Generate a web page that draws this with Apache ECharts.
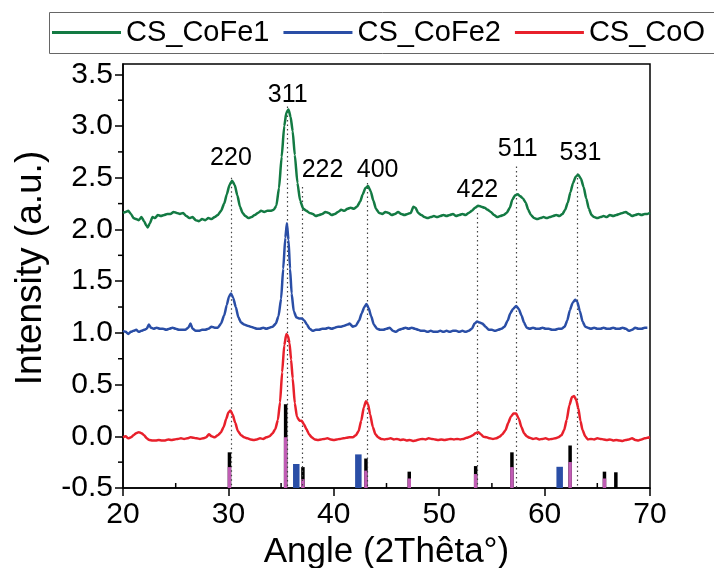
<!DOCTYPE html>
<html><head><meta charset="utf-8">
<script src="https://cdn.jsdelivr.net/npm/echarts@6/dist/echarts.min.js"></script>
<style>html,body{margin:0;padding:0;background:#fff}#c{width:714px;height:568px}</style>
</head><body><div id="c"></div>
<script>
const FONT = '"Liberation Sans", Arial, sans-serif';
const seriesNames = ['CS_CoFe1', 'CS_CoFe2', 'CS_CoO'];
const xTicks = [20, 30, 40, 50, 60, 70];
const xMinorTicks = [25, 35, 45, 55, 65];
const yTicks = [-0.5, 0, 0.5, 1, 1.5, 2, 2.5, 3, 3.5];
const yMinorTicks = [-0.25, 0.25, 0.75, 1.25, 1.75, 2.25, 2.75, 3.25];

const cofe1 = [[20.0,2.16],[20.25,2.17],[20.5,2.18],[20.75,2.15],[21.0,2.11],[21.25,2.10],[21.5,2.09],[21.75,2.12],[22.0,2.08],[22.2,2.04],[22.35,2.02],[22.55,2.06],[22.8,2.12],[23.05,2.11],[23.3,2.14],[23.6,2.13],[23.9,2.14],[24.2,2.15],[24.5,2.15],[24.8,2.17],[25.1,2.16],[25.4,2.15],[25.7,2.16],[26.0,2.13],[26.3,2.11],[26.6,2.12],[26.9,2.09],[27.2,2.08],[27.5,2.10],[27.8,2.09],[28.1,2.11],[28.4,2.10],[28.7,2.12],[29.0,2.14],[29.3,2.18],[29.6,2.25],[29.85,2.34],[30.1,2.43],[30.35,2.47],[30.6,2.43],[30.85,2.33],[31.1,2.22],[31.35,2.16],[31.6,2.13],[31.9,2.11],[32.2,2.12],[32.5,2.14],[32.8,2.16],[33.1,2.18],[33.4,2.17],[33.7,2.18],[34.0,2.18],[34.3,2.19],[34.55,2.23],[34.8,2.40],[35.05,2.70],[35.3,3.00],[35.5,3.13],[35.7,3.16],[35.9,3.09],[36.1,2.95],[36.3,2.72],[36.55,2.45],[36.8,2.28],[37.1,2.20],[37.4,2.18],[37.7,2.16],[38.0,2.15],[38.3,2.13],[38.6,2.14],[38.9,2.15],[39.2,2.17],[39.5,2.16],[39.8,2.14],[40.1,2.15],[40.4,2.17],[40.7,2.19],[41.0,2.18],[41.3,2.20],[41.6,2.21],[41.9,2.20],[42.2,2.22],[42.5,2.27],[42.75,2.34],[43.0,2.40],[43.25,2.42],[43.5,2.37],[43.75,2.28],[44.0,2.20],[44.3,2.16],[44.6,2.15],[44.9,2.17],[45.2,2.16],[45.5,2.14],[45.8,2.15],[46.1,2.17],[46.4,2.15],[46.7,2.14],[47.0,2.15],[47.3,2.16],[47.55,2.22],[47.75,2.21],[48.0,2.16],[48.3,2.14],[48.6,2.12],[48.9,2.11],[49.2,2.12],[49.5,2.13],[49.8,2.12],[50.1,2.13],[50.4,2.14],[50.7,2.13],[51.0,2.14],[51.3,2.15],[51.6,2.13],[51.9,2.14],[52.2,2.15],[52.5,2.14],[52.8,2.16],[53.1,2.18],[53.4,2.21],[53.7,2.23],[54.0,2.22],[54.3,2.21],[54.6,2.19],[54.9,2.17],[55.2,2.14],[55.5,2.12],[55.8,2.13],[56.1,2.14],[56.4,2.16],[56.7,2.21],[56.95,2.29],[57.2,2.33],[57.45,2.34],[57.7,2.32],[57.95,2.30],[58.2,2.26],[58.45,2.19],[58.7,2.14],[59.0,2.11],[59.3,2.10],[59.6,2.11],[59.9,2.12],[60.2,2.11],[60.5,2.12],[60.8,2.13],[61.1,2.14],[61.4,2.13],[61.7,2.15],[61.95,2.19],[62.2,2.26],[62.45,2.36],[62.7,2.45],[62.95,2.51],[63.2,2.53],[63.45,2.49],[63.7,2.41],[63.95,2.30],[64.2,2.20],[64.45,2.14],[64.7,2.12],[65.0,2.11],[65.3,2.12],[65.6,2.13],[65.9,2.12],[66.2,2.14],[66.5,2.13],[66.8,2.14],[67.1,2.15],[67.4,2.16],[67.7,2.17],[68.0,2.15],[68.3,2.13],[68.6,2.14],[68.9,2.15],[69.2,2.14],[69.5,2.15],[69.75,2.15],[70.0,2.16]];

const cofe2 = [[20.0,1.02],[20.25,1.01],[20.5,0.99],[20.75,1.01],[21.0,1.02],[21.25,1.03],[21.5,1.01],[21.75,1.02],[22.0,1.03],[22.25,1.04],[22.45,1.08],[22.65,1.05],[22.9,1.04],[23.2,1.05],[23.5,1.04],[23.8,1.04],[24.1,1.03],[24.4,1.04],[24.7,1.05],[25.0,1.04],[25.3,1.03],[25.6,1.03],[25.9,1.03],[26.2,1.05],[26.4,1.09],[26.6,1.04],[26.9,1.02],[27.2,1.02],[27.5,1.03],[27.8,1.03],[28.1,1.04],[28.4,1.06],[28.7,1.05],[29.0,1.05],[29.3,1.09],[29.6,1.17],[29.85,1.27],[30.05,1.35],[30.25,1.38],[30.45,1.34],[30.7,1.25],[30.95,1.15],[31.2,1.10],[31.5,1.08],[31.8,1.07],[32.1,1.06],[32.4,1.05],[32.7,1.04],[33.0,1.04],[33.3,1.05],[33.6,1.04],[33.9,1.05],[34.2,1.06],[34.5,1.09],[34.75,1.16],[35.0,1.33],[35.2,1.62],[35.4,1.92],[35.55,2.06],[35.7,1.90],[35.85,1.62],[36.0,1.38],[36.2,1.21],[36.45,1.15],[36.7,1.14],[36.95,1.14],[37.2,1.12],[37.45,1.08],[37.7,1.04],[38.0,1.02],[38.3,1.03],[38.6,1.03],[38.9,1.04],[39.2,1.04],[39.5,1.05],[39.8,1.04],[40.1,1.05],[40.4,1.06],[40.7,1.06],[41.0,1.07],[41.3,1.08],[41.5,1.09],[41.8,1.06],[42.1,1.07],[42.4,1.12],[42.65,1.19],[42.9,1.25],[43.1,1.28],[43.3,1.24],[43.55,1.16],[43.8,1.08],[44.1,1.04],[44.4,1.03],[44.7,1.03],[45.0,1.04],[45.3,1.05],[45.6,1.02],[45.9,1.01],[46.2,1.03],[46.5,1.04],[46.8,1.05],[47.1,1.04],[47.4,1.05],[47.7,1.04],[48.0,1.03],[48.3,1.02],[48.6,1.02],[48.9,1.01],[49.2,1.02],[49.5,1.01],[49.8,1.01],[50.1,1.02],[50.4,1.01],[50.7,1.02],[51.0,1.01],[51.3,1.02],[51.6,1.02],[51.9,1.01],[52.2,1.02],[52.5,1.01],[52.8,1.02],[53.1,1.04],[53.35,1.09],[53.6,1.11],[53.85,1.10],[54.1,1.09],[54.4,1.06],[54.7,1.03],[55.0,1.03],[55.3,1.02],[55.6,1.03],[55.9,1.04],[56.2,1.06],[56.5,1.12],[56.75,1.19],[57.0,1.23],[57.3,1.26],[57.55,1.23],[57.8,1.17],[58.05,1.10],[58.3,1.05],[58.6,1.04],[58.9,1.05],[59.2,1.04],[59.5,1.04],[59.8,1.05],[60.1,1.04],[60.4,1.04],[60.7,1.03],[61.0,1.03],[61.3,1.04],[61.6,1.04],[61.9,1.06],[62.15,1.12],[62.4,1.22],[62.65,1.29],[62.9,1.32],[63.1,1.30],[63.35,1.21],[63.6,1.11],[63.85,1.06],[64.1,1.05],[64.4,1.04],[64.7,1.05],[65.0,1.04],[65.3,1.04],[65.6,1.05],[65.9,1.04],[66.2,1.04],[66.5,1.05],[66.8,1.04],[67.1,1.04],[67.4,1.05],[67.7,1.04],[68.0,1.02],[68.3,1.03],[68.6,1.05],[68.9,1.04],[69.2,1.04],[69.5,1.05],[69.75,1.05]];

const coo = [[20.0,-0.01],[20.25,0.00],[20.5,-0.02],[20.75,-0.01],[21.0,0.01],[21.25,0.03],[21.5,0.04],[21.75,0.03],[22.0,0.01],[22.25,-0.02],[22.5,-0.035],[22.8,-0.04],[23.1,-0.04],[23.4,-0.035],[23.7,-0.04],[24.0,-0.04],[24.3,-0.03],[24.6,-0.035],[24.9,-0.03],[25.2,-0.025],[25.5,-0.02],[25.8,-0.025],[26.1,-0.02],[26.4,-0.01],[26.7,-0.015],[27.0,-0.02],[27.3,-0.025],[27.6,-0.02],[27.9,-0.01],[28.15,0.02],[28.4,0.00],[28.7,-0.01],[29.0,0.01],[29.3,0.04],[29.55,0.09],[29.8,0.17],[30.0,0.23],[30.2,0.25],[30.4,0.21],[30.65,0.13],[30.9,0.05],[31.2,0.01],[31.5,-0.01],[31.8,-0.02],[32.1,-0.03],[32.4,-0.035],[32.7,-0.03],[33.0,-0.02],[33.3,-0.025],[33.6,-0.01],[33.9,0.00],[34.2,0.03],[34.45,0.07],[34.7,0.16],[34.9,0.33],[35.1,0.62],[35.3,0.88],[35.5,0.99],[35.65,0.97],[35.8,0.90],[35.95,0.74],[36.1,0.56],[36.3,0.32],[36.5,0.19],[36.75,0.15],[36.95,0.15],[37.15,0.12],[37.4,0.07],[37.65,0.02],[37.9,-0.01],[38.2,-0.03],[38.5,-0.035],[38.8,-0.03],[39.1,-0.025],[39.4,-0.02],[39.7,-0.03],[40.0,-0.035],[40.3,-0.03],[40.6,-0.025],[40.9,-0.02],[41.2,-0.015],[41.5,-0.01],[41.8,-0.01],[42.1,0.01],[42.35,0.05],[42.6,0.15],[42.85,0.28],[43.05,0.34],[43.25,0.31],[43.45,0.21],[43.7,0.09],[43.95,0.02],[44.2,-0.01],[44.5,-0.025],[44.8,-0.03],[45.1,-0.025],[45.4,-0.02],[45.7,-0.03],[46.0,-0.025],[46.3,-0.035],[46.6,-0.03],[46.9,-0.04],[47.2,-0.035],[47.5,-0.045],[47.8,-0.04],[48.1,-0.03],[48.4,-0.025],[48.7,-0.03],[49.0,-0.02],[49.3,-0.025],[49.6,-0.03],[49.9,-0.035],[50.2,-0.03],[50.5,-0.035],[50.8,-0.03],[51.1,-0.025],[51.4,-0.03],[51.7,-0.025],[52.0,-0.03],[52.3,-0.025],[52.6,-0.015],[52.9,-0.005],[53.2,0.01],[53.45,0.03],[53.7,0.04],[53.95,0.02],[54.2,-0.005],[54.5,-0.01],[54.8,-0.02],[55.1,-0.025],[55.4,-0.02],[55.7,-0.005],[56.0,0.02],[56.3,0.06],[56.55,0.13],[56.8,0.19],[57.05,0.22],[57.3,0.22],[57.55,0.17],[57.8,0.09],[58.05,0.03],[58.3,0.00],[58.6,-0.015],[58.9,-0.025],[59.2,-0.02],[59.5,-0.03],[59.8,-0.025],[60.1,-0.02],[60.4,-0.03],[60.7,-0.025],[61.0,-0.02],[61.3,-0.01],[61.6,0.01],[61.85,0.06],[62.1,0.16],[62.35,0.30],[62.6,0.38],[62.8,0.39],[63.0,0.35],[63.2,0.27],[63.4,0.15],[63.6,0.06],[63.85,0.00],[64.1,-0.03],[64.4,-0.025],[64.7,-0.03],[65.0,-0.02],[65.3,-0.025],[65.6,-0.03],[65.9,-0.035],[66.2,-0.03],[66.5,-0.04],[66.8,-0.035],[67.1,-0.04],[67.4,-0.045],[67.7,-0.035],[68.0,-0.03],[68.3,-0.02],[68.6,-0.035],[68.9,-0.04],[69.2,-0.03],[69.5,-0.02],[69.75,-0.015],[70.0,-0.01]];

// reference pattern sticks: [2theta, top value]
const refBlack = [[30.1,-0.155],[35.43,0.31],[37.07,-0.298],[43.05,-0.215],[47.16,-0.342],[53.46,-0.288],[56.9,-0.155],[62.42,-0.089],[65.68,-0.342],[66.76,-0.348]];
const refMagenta = [[30.1,-0.298],[35.43,-0.009],[37.07,-0.415],[43.05,-0.332],[47.16,-0.408],[53.46,-0.365],[56.9,-0.298],[62.42,-0.249],[65.68,-0.408]];
const refBlue = [[36.44,-0.268],[42.33,-0.175],[61.43,-0.295]];

const peakLabels = ['220', '311', '222', '400', '422', '511', '531'];
const peakLabelX = [30.24, 35.63, 38.93, 44.16, 53.62, 57.45, 63.4];
const peakLabelY = [2.69, 3.30, 2.57, 2.57, 2.38, 2.78, 2.74];
const guideX = [30.24, 35.63, 37.03, 43.14, 53.6, 57.35, 63.1];
const guideTop = [2.50, 3.19, 2.41, 2.45, 2.16, 2.61, 2.54];

const chart = echarts.init(document.getElementById('c'), null, {renderer: 'canvas'});

function stickRender(w) {
  return function (params, api) {
    const top = api.coord([api.value(0), api.value(1)]);
    const base = api.coord([api.value(0), -0.5]);
    return {type: 'rect', shape: {x: top[0] - w / 2, y: top[1], width: w, height: base[1] - top[1]},
      style: {fill: api.visual('color')}};
  };
}

const option = {
  backgroundColor: '#fff',
  animation: false,
  textStyle: {fontFamily: FONT},
  graphic: [{
    type: 'rect', silent: true, z: 0,
    shape: {x: 49.5, y: 12.5, width: 720, height: 41},
    style: {fill: 'none', stroke: '#666', lineWidth: 1}
  }],
  legend: {
    data: seriesNames, left: 49, top: 12, width: 900, icon: 'rect', itemWidth: 69, itemHeight: 3, itemGap: 14,
    padding: [5, 10, 5, 3],
    textStyle: {fontSize: 29, color: '#000', fontFamily: FONT, lineHeight: 31}
  },
  grid: {left: 123, right: 64, top: 64, bottom: 80, show: true, borderColor: '#000', borderWidth: 1.5,
    containLabel: false, outerBoundsMode: 'none'},
  xAxis: {
    type: 'value', min: 20, max: 70, interval: 10,
    axisLine: {show: true, onZero: false, lineStyle: {color: '#000', width: 1.5}},
    axisTick: {show: true, length: 8, inside: false, lineStyle: {color: '#000', width: 1.5}},
    axisLabel: {fontSize: 30, color: '#000', margin: 12, fontFamily: FONT, customValues: xTicks},
    splitLine: {show: false},
    name: 'Angle (2Thêta°)', nameLocation: 'middle', nameGap: 44,
    nameTextStyle: {fontSize: 35, color: '#000', fontFamily: FONT}
  },
  yAxis: {
    type: 'value', min: -0.5, max: 3.6, interval: 0.5,
    axisLine: {show: true, onZero: false, lineStyle: {color: '#000', width: 1.5}},
    axisTick: {show: true, length: 8, inside: false, customValues: yTicks, lineStyle: {color: '#000', width: 1.5}},
    axisLabel: {fontSize: 30, color: '#000', margin: 10, fontFamily: FONT, customValues: yTicks,
      formatter: v => Number(v).toFixed(1)},
    splitLine: {show: false},
    name: 'Intensity (a.u.)', nameLocation: 'middle', nameGap: 74,
    nameTextStyle: {fontSize: 37, color: '#000', fontFamily: FONT, padding: [0, 0, 0, 16]}
  },
  series: [
    {
      name: 'guides', type: 'line', data: [], silent: true, z: 1,
      markLine: {
        silent: true, symbol: ['none', 'none'], label: {show: false},
        lineStyle: {color: '#444', width: 1.2, type: [1.5, 3]},
        data: guideX.map((x, i) => [{coord: [x, guideTop[i]]}, {coord: [x, -0.5]}])
      }
    },
    {name: 'refBlack', type: 'custom', data: refBlack, encode: {x: 0, y: 1}, itemStyle: {color: '#000'}, renderItem: stickRender(3.5), z: 2, silent: true},
    {name: 'refMagenta', type: 'custom', data: refMagenta, encode: {x: 0, y: 1}, itemStyle: {color: '#c05cb4'}, renderItem: stickRender(3.5), z: 3, silent: true},
    {name: 'refBlue', type: 'custom', data: refBlue, encode: {x: 0, y: 1}, itemStyle: {color: '#2a4ea6'}, renderItem: stickRender(6.5), z: 3, silent: true},
    {name: 'CS_CoFe1', type: 'line', data: cofe1, symbol: 'none', smooth: 0.2, smoothMonotone: 'x', lineStyle: {width: 2.5, color: '#137a43'}, itemStyle: {color: '#137a43'}, z: 5},
    {name: 'CS_CoFe2', type: 'line', data: cofe2, symbol: 'none', smooth: 0.2, smoothMonotone: 'x', lineStyle: {width: 2.5, color: '#2a4ea6'}, itemStyle: {color: '#2a4ea6'}, z: 5},
    {name: 'CS_CoO', type: 'line', data: coo, symbol: 'none', smooth: 0.2, smoothMonotone: 'x', lineStyle: {width: 2.5, color: '#e8202b'}, itemStyle: {color: '#e8202b'}, z: 5},
    {
      name: 'peakLabels', type: 'scatter', symbolSize: 1, itemStyle: {color: 'rgba(255,255,255,0)'}, silent: true, z: 6,
      data: peakLabelX.map((x, i) => [x, peakLabelY[i], peakLabels[i]]),
      label: {show: true, position: 'inside', formatter: p => p.value[2], fontSize: 25, color: '#000',
        fontFamily: FONT, textBorderWidth: 0, textBorderColor: 'transparent', opacity: 1}
    },
    {
      name: 'xMinor', type: 'custom', silent: true, clip: false, z: 7,
      data: xMinorTicks.map(v => [v, -0.5]), encode: {x: 0, y: 1},
      renderItem: (params, api) => {
        const p = api.coord([api.value(0), api.value(1)]);
        return {type: 'line', shape: {x1: p[0], y1: p[1], x2: p[0], y2: p[1] - 5}, style: {stroke: '#000', lineWidth: 1.5}};
      }
    },
    {
      name: 'yMinor', type: 'custom', silent: true, clip: false, z: 7,
      data: yMinorTicks.map(v => [20, v]), encode: {x: 0, y: 1},
      renderItem: (params, api) => {
        const p = api.coord([api.value(0), api.value(1)]);
        return {type: 'line', shape: {x1: p[0] - 5, y1: p[1], x2: p[0], y2: p[1]}, style: {stroke: '#000', lineWidth: 1.5}};
      }
    }
  ]
};
chart.setOption(option);
</script>
</body></html>
